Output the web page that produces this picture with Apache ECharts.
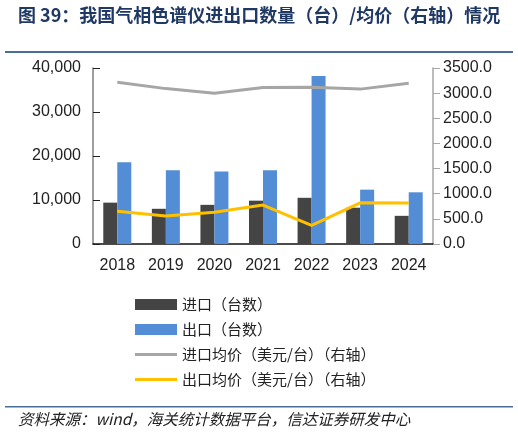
<!DOCTYPE html>
<html>
<head>
<meta charset="utf-8">
<script src="https://cdn.jsdelivr.net/npm/echarts@6/dist/echarts.min.js"></script>
<style>
html, body { margin: 0; padding: 0; background: #fff; }
#main { width: 518px; height: 432px; }
</style>
</head>
<body>
<div id="main"></div>
<script>
// 年份
var years = ['2018', '2019', '2020', '2021', '2022', '2023', '2024'];
// 进口、出口数量（台）
var importQty = [9400, 8000, 8900, 9850, 10500, 8250, 6400];
var exportQty = [18600, 16750, 16500, 16750, 38200, 12350, 11750];
// 进出口均价（美元/台），右轴
var importPrice = [3215, 3090, 3000, 3110, 3115, 3080, 3195];
var exportPrice = [650, 555, 630, 775, 370, 820, 815];

var chart = echarts.init(document.getElementById('main'));
var txt = '#222';
var lineIcon = 'path://M0,0 L42,0 L42,3 L0,3 Z';
var option = {
    backgroundColor: '#fff',
    animation: false,
    textStyle: { fontFamily: 'Liberation Sans, Arial, sans-serif' },
    graphic: [
        { type: 'text', left: 18, top: 6,
          style: { text: '图 39：我国气相色谱仪进出口数量（台）/均价（右轴）情况',
                   font: 'bold 18px "Noto Sans CJK SC", sans-serif', fill: '#1F3864' } },
        { type: 'rect', shape: { x: 5, y: 51, width: 508, height: 2 }, style: { fill: '#4A6E9C' } },
        { type: 'rect', shape: { x: 5, y: 406, width: 508, height: 1.5 }, style: { fill: '#4A6E9C' } },
        { type: 'text', left: 18, top: 411,
          style: { text: '资料来源：wind，海关统计数据平台，信达证券研发中心',
                   font: 'italic 15.5px "Noto Sans CJK SC", sans-serif', fill: txt } }
    ],
    grid: { left: 93, right: 85, top: 68, bottom: 188 },
    legend: {
        orient: 'vertical',
        left: 130,
        top: 292,
        itemWidth: 42,
        itemHeight: 11,
        itemGap: 10,
        textStyle: { fontSize: 15, color: txt, fontFamily: '"Noto Sans CJK SC", sans-serif' },
        data: [
            { name: '进口（台数）', icon: 'rect' },
            { name: '出口（台数）', icon: 'rect' },
            { name: '进口均价（美元/台）（右轴）', icon: lineIcon },
            { name: '出口均价（美元/台）（右轴）', icon: lineIcon }
        ]
    },
    xAxis: {
        type: 'category',
        data: years,
        axisLine: { lineStyle: { color: '#111', width: 1.5 } },
        axisTick: { inside: true, length: 6, lineStyle: { color: '#111' } },
        axisLabel: { fontSize: 16, color: txt, margin: 14 }
    },
    yAxis: [
        {
            type: 'value', min: 0, max: 40000, interval: 10000,
            splitLine: { show: false },
            axisLine: { show: true, lineStyle: { color: '#7F7F7F', width: 1.5 } },
            axisTick: { show: true, inside: true, length: 7, lineStyle: { color: '#222' } },
            axisLabel: {
                fontSize: 16, color: txt, margin: 12,
                formatter: function (v) { return v.toLocaleString('en-US'); }
            }
        },
        {
            type: 'value', min: 0, max: 3500, interval: 500,
            splitLine: { show: false },
            axisLine: { show: true, lineStyle: { color: '#A6A6A6', width: 1.5 } },
            axisTick: { show: true, length: 7, lineStyle: { color: '#A6A6A6' } },
            axisLabel: {
                fontSize: 16, color: txt, margin: 10,
                formatter: function (v) { return v.toFixed(1); }
            }
        }
    ],
    series: [
        {
            name: '进口（台数）', type: 'bar', data: importQty,
            barWidth: 14, barGap: '0%',
            itemStyle: { color: '#444444' }
        },
        {
            name: '出口（台数）', type: 'bar', data: exportQty,
            barWidth: 14,
            itemStyle: { color: '#538DD5' }
        },
        {
            name: '进口均价（美元/台）（右轴）', type: 'line', yAxisIndex: 1, data: importPrice,
            symbol: 'none', lineStyle: { color: '#A6A6A6', width: 3 }, itemStyle: { color: '#A6A6A6' }
        },
        {
            name: '出口均价（美元/台）（右轴）', type: 'line', yAxisIndex: 1, data: exportPrice,
            symbol: 'none', lineStyle: { color: '#FFC000', width: 3 }, itemStyle: { color: '#FFC000' }
        }
    ]
};
chart.setOption(option);
</script>
</body>
</html>
